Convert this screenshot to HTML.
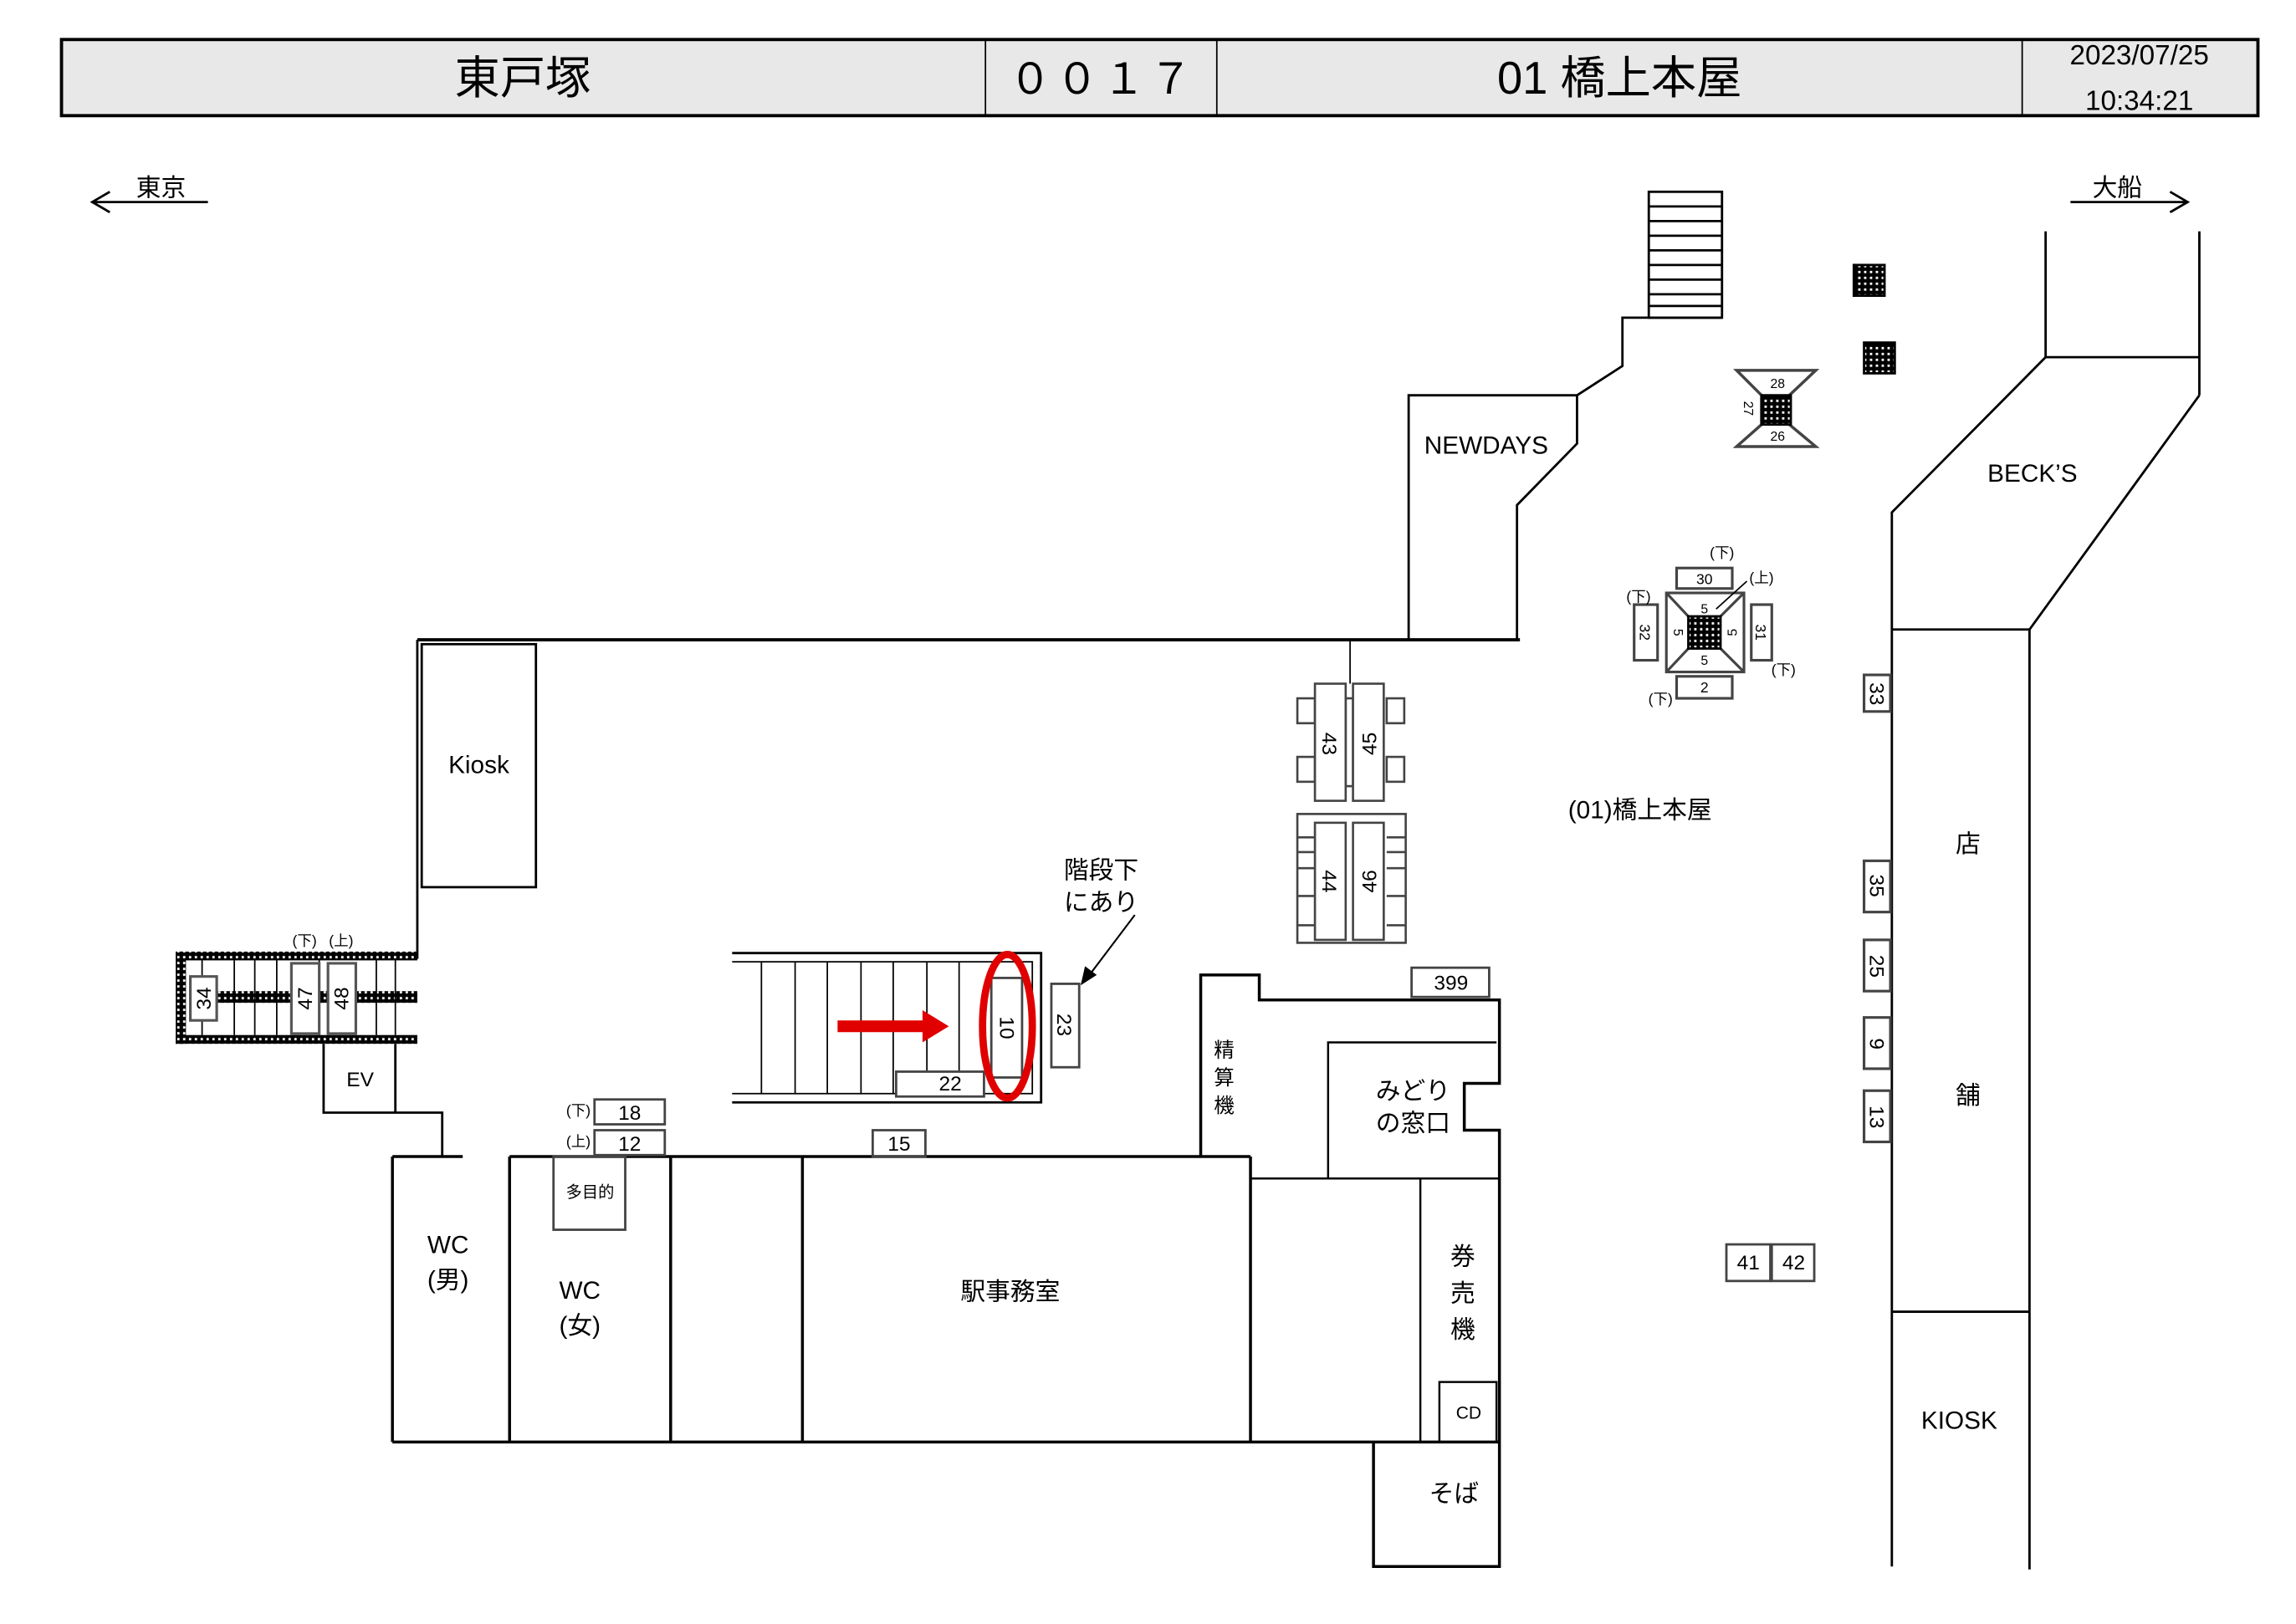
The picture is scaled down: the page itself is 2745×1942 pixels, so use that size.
<!DOCTYPE html>
<html><head><meta charset="utf-8"><style>
html,body{margin:0;padding:0;background:#fff;}
svg{display:block;}
text{font-family:"Liberation Sans","Noto Sans CJK JP",sans-serif;fill:#000;}
</style></head><body>
<svg width="2745" height="1942" viewBox="0 0 1568 1109.3" preserveAspectRatio="none" xmlns="http://www.w3.org/2000/svg">
<defs>
<pattern id="dots" width="4" height="4" patternUnits="userSpaceOnUse"><rect width="4" height="4" fill="#000"/><rect x="1" y="1" width="1.6" height="1.6" fill="#fff"/></pattern>
</defs>
<g fill="none" stroke="#000" stroke-width="1.6">
<rect x="42" y="27" width="1500" height="52" fill="#e8e8e8" stroke-width="2.2"/>
<line x1="673" y1="27" x2="673" y2="79" stroke-width="1"/>
<line x1="831" y1="27" x2="831" y2="79" stroke-width="1"/>
<line x1="1381" y1="27" x2="1381" y2="79" stroke-width="1"/>
<polyline points="75,131 63,138 75,145"/><line x1="63" y1="138" x2="142" y2="138"/>
<polyline points="1482,131 1494,138 1482,145"/><line x1="1414" y1="138" x2="1494" y2="138"/>
<rect x="1126" y="131" width="50" height="86"/>
<path d="M1126 141H1176M1126 151H1176M1126 161H1176M1126 171H1176M1126 181H1176M1126 191H1176M1126 201H1176M1126 209H1176"/>
<polyline points="1176,217 1108,217 1108,250 1077,270 962,270 962,437"/>
<polyline points="1077,270 1077,303 1036,345 1036,437"/>
<line x1="285" y1="437" x2="1038" y2="437" stroke-width="2.2"/>
<line x1="922" y1="437" x2="922" y2="467" stroke-width="1"/>
<rect x="1266" y="181" width="21" height="21" fill="url(#dots)"/>
<rect x="1273" y="234" width="21" height="21" fill="url(#dots)"/>
<path d="M1186 253H1240L1222 270V290L1240 305H1186L1203 290V270Z" stroke="#444" stroke-width="2"/>
<rect x="1203" y="270" width="20" height="20" fill="url(#dots)"/>
<line x1="1397" y1="158" x2="1397" y2="244"/>
<line x1="1502" y1="158" x2="1502" y2="270"/>
<line x1="1397" y1="244" x2="1502" y2="244"/>
<polyline points="1397,244 1292,350 1292,1070"/>
<polyline points="1502,270 1386,430 1386,1072"/>
<line x1="1292" y1="430" x2="1386" y2="430"/>
<line x1="1292" y1="896" x2="1386" y2="896"/>
<g stroke="#444" stroke-width="1.8">
<rect x="1273" y="461" width="18" height="25"/>
<rect x="1273" y="588" width="18" height="35"/>
<rect x="1273" y="642" width="18" height="35"/>
<rect x="1273" y="695" width="18" height="35"/>
<rect x="1273" y="745" width="18" height="35"/>
<rect x="1138" y="405" width="53" height="54"/>
<path d="M1138 405L1153 421M1191 405L1175 421M1138 459L1153 443M1191 459L1175 443"/>
<rect x="1145" y="388" width="38" height="14"/>
<rect x="1145" y="462" width="38" height="15"/>
<rect x="1116" y="413" width="16" height="38"/>
<rect x="1196" y="413" width="14" height="38"/>
</g>
<rect x="1153" y="421" width="22" height="22" fill="url(#dots)"/>
<line x1="1172" y1="416" x2="1193" y2="397" stroke-width="1"/>
<g stroke="#444" stroke-width="1.5">
<rect x="886" y="477" width="12" height="17"/><rect x="886" y="517" width="12" height="17"/>
<rect x="947" y="477" width="12" height="17"/><rect x="947" y="517" width="12" height="17"/>
<rect x="919" y="477" width="5" height="60"/>
<rect x="898" y="467" width="21" height="80" fill="#fff"/><rect x="924" y="467" width="21" height="80" fill="#fff"/>
<rect x="886" y="556" width="74" height="88"/>
<rect x="898" y="562" width="21" height="80" fill="#fff"/><rect x="924" y="562" width="21" height="80" fill="#fff"/>
<path d="M898 572H886M898 582H886M947 572H960M947 582H960M898 593H886M898 612H886M947 593H960M947 612H960M898 632H886M947 632H960"/>
</g>
<rect x="288" y="440" width="78" height="166"/>
<polyline points="285,437 285,655"/>
<rect x="120" y="650" width="165" height="6" fill="url(#dots)" stroke="none"/>
<rect x="120" y="707" width="165" height="6" fill="url(#dots)" stroke="none"/>
<rect x="120" y="650" width="7" height="63" fill="url(#dots)" stroke="none"/>
<rect x="148" y="677" width="137" height="8" fill="url(#dots)" stroke="none"/>
<path d="M138 656V707M160 656V707M174 656V707M189 656V707M218 656V707M257 656V707M270 656V707" stroke-width="1"/>
<g stroke="#555" stroke-width="1.8">
<rect x="130" y="667" width="18" height="30" fill="#fff"/>
<rect x="199" y="658" width="19" height="48" fill="#fff"/>
<rect x="224" y="658" width="19" height="48" fill="#fff"/>
</g>
<polyline points="221,713 221,760 302,760 302,790"/>
<line x1="270" y1="713" x2="270" y2="760"/>
<polyline points="500,651 711,651 711,753 500,753"/>
<path d="M500 657H705V747H500M520 657V747M543 657V747M565 657V747M588 657V747M610 657V747M633 657V747M655 657V747" stroke-width="1"/>
<g stroke="#444">
<rect x="677" y="668" width="21" height="68" fill="#fff"/>
<rect x="612" y="732" width="60" height="17" fill="#fff"/>
<rect x="718" y="672" width="19" height="57"/>
</g>
<ellipse cx="688" cy="701" rx="17" ry="49" stroke="#e00000" stroke-width="5"/>
<line x1="775" y1="625" x2="744" y2="666" stroke-width="1.2"/>
<polygon points="738,673 741,660 749,666" fill="#000" stroke="none"/>
<line x1="268" y1="985" x2="1024" y2="985" stroke-width="2"/>
<path d="M268 790H316M348 790H854M268 790V985M348 790V985M458 790V985M548 790V985M854 790V985" stroke-width="2"/>
<g stroke="#444">
<rect x="378" y="790" width="49" height="50"/>
<rect x="406" y="751" width="48" height="17"/>
<rect x="406" y="772" width="48" height="17"/>
<rect x="596" y="772" width="36" height="18"/>
<rect x="964" y="661" width="53" height="20"/>
<rect x="1179" y="850" width="30" height="25"/>
<rect x="1210" y="850" width="29" height="25"/>
</g>
<polyline points="820,790 820,666 860,666 860,683 1024,683 1024,740 1000,740 1000,772 1024,772 1024,1070 938,1070 938,985" stroke-width="2"/>
<polyline points="907,805 907,712 1022,712" stroke-width="1.4"/>
<line x1="854" y1="805" x2="1024" y2="805" stroke-width="1.4"/>
<line x1="970" y1="805" x2="970" y2="985" stroke-width="1.4"/>
<rect x="983" y="944" width="39" height="41" stroke-width="1.4"/>
</g>
<polygon points="572,697 630,697 630,690 648,701 630,712 630,705 572,705" fill="#e00000"/>
<text x="357" y="64" font-size="31" text-anchor="middle">東戸塚</text>
<text x="753" y="64" font-size="29" text-anchor="middle" letter-spacing="3">００１７</text>
<text x="1106" y="64" font-size="31" text-anchor="middle">01 橋上本屋</text>
<text x="1461" y="44" font-size="19" text-anchor="middle">2023/07/25</text>
<text x="1461" y="75" font-size="19" text-anchor="middle">10:34:21</text>
<text x="110" y="134" font-size="17" text-anchor="middle">東京</text>
<text x="1446" y="134" font-size="17" text-anchor="middle">大船</text>
<g font-size="17" text-anchor="middle">
<text x="1015" y="310">NEWDAYS</text>
<text x="1388" y="329">BECK’S</text>
<text x="1344" y="582">店</text>
<text x="1344" y="754">舗</text>
<text x="1338" y="976">KIOSK</text>
<text x="1120" y="559">(01)橋上本屋</text>
<text x="327" y="528">Kiosk</text>
<text x="752" y="600">階段下</text>
<text x="752" y="622">にあり</text>
<text x="306" y="856">WC</text><text x="306" y="880">(男)</text>
<text x="396" y="887">WC</text><text x="396" y="911">(女)</text>
<text x="690" y="888">駅事務室</text>
<text x="965" y="751">みどり</text><text x="965" y="773">の窓口</text>
<text x="999" y="864">券</text><text x="999" y="889">売</text><text x="999" y="914">機</text>
<text x="993" y="1026">そば</text>
</g>
<g font-size="14" text-anchor="middle">
<text x="836" y="722">精</text><text x="836" y="741">算</text><text x="836" y="760">機</text>
<text x="246" y="742">EV</text>
<text x="1003" y="969" font-size="12">CD</text>
<text x="403" y="818" font-size="11">多目的</text>
<text x="430" y="765">18</text><text x="430" y="786">12</text>
<text x="614" y="786">15</text><text x="649" y="745">22</text>
<text x="991" y="676">399</text>
<text x="1194" y="867">41</text><text x="1225" y="867">42</text>
</g>
<g font-size="10" text-anchor="middle">
<text x="395" y="762">(下)</text><text x="395" y="783">(上)</text>
<text x="208" y="646">(下)</text><text x="233" y="646">(上)</text>
<text x="1176" y="381">(下)</text><text x="1203" y="398">(上)</text>
<text x="1119" y="411">(下)</text><text x="1218" y="461">(下)</text><text x="1134" y="481">(下)</text>
<text x="1164" y="399">30</text><text x="1164" y="473">2</text>
<text x="1164" y="419" font-size="9">5</text><text x="1164" y="454" font-size="9">5</text>
<text x="1214" y="265" font-size="9">28</text><text x="1214" y="301" font-size="9">26</text>
</g>
<g font-size="14" text-anchor="middle">
<text transform="translate(1282,474) rotate(90)" y="5">33</text>
<text transform="translate(1282,605) rotate(90)" y="5">35</text>
<text transform="translate(1282,660) rotate(90)" y="5">25</text>
<text transform="translate(1282,713) rotate(90)" y="5">9</text>
<text transform="translate(1282,763) rotate(90)" y="5">13</text>
<text transform="translate(908,508) rotate(90)" y="5">43</text>
<text transform="translate(935,508) rotate(-90)" y="5">45</text>
<text transform="translate(908,602) rotate(90)" y="5">44</text>
<text transform="translate(935,602) rotate(-90)" y="5">46</text>
<text transform="translate(139,682) rotate(-90)" y="5">34</text>
<text transform="translate(208,682) rotate(-90)" y="5">47</text>
<text transform="translate(233,682) rotate(-90)" y="5">48</text>
<text transform="translate(688,702) rotate(90)" y="5">10</text>
<text transform="translate(727,700) rotate(90)" y="5">23</text>
<text transform="translate(1124,432) rotate(90)" y="4" font-size="10">32</text>
<text transform="translate(1203,432) rotate(90)" y="4" font-size="10">31</text>
<text transform="translate(1146,432) rotate(90)" y="3" font-size="9">5</text>
<text transform="translate(1183,432) rotate(-90)" y="3" font-size="9">5</text>
<text transform="translate(1194,279) rotate(90)" y="3" font-size="9">27</text>
</g>
</svg>
</body></html>
